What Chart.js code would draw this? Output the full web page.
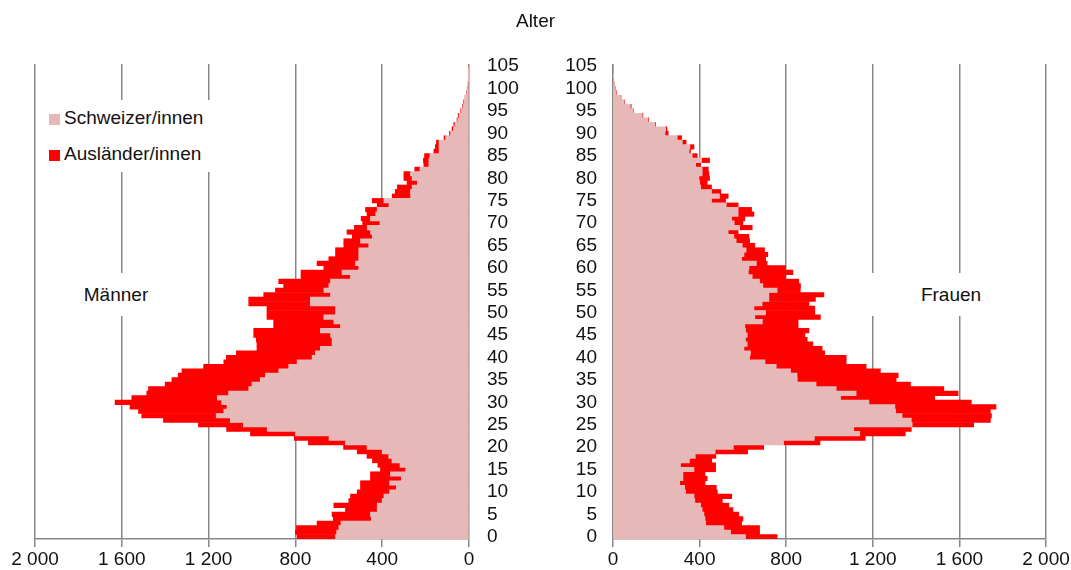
<!DOCTYPE html>
<html>
<head>
<meta charset="utf-8">
<script src="https://cdn.jsdelivr.net/npm/chart.js@4.4.1/dist/chart.umd.min.js"></script>
<style>
  body { margin: 0; background: #fff; font-family: "Liberation Sans", Arial, sans-serif; color: #111; }
  #wrap { position: relative; width: 1071px; height: 570px; overflow: hidden; }
  .pane { position: absolute; top: 0; height: 570px; }
  #title { position: absolute; left: 0; width: 1071px; top: 10px; text-align: center; font-size: 19px; }
  #legend { position: absolute; left: 40px; top: 100px; width: 178px; height: 72px; background: #fff; font-size: 19px; }
  #legend .item { position: absolute; left: 9px; height: 22px; line-height: 22px; white-space: nowrap; }
  #legend .sw { display: inline-block; width: 11px; height: 11px; margin-right: 4px; vertical-align: -1px; }
  .side { position: absolute; top: 273px; height: 43px; line-height: 43px; background: #fff; font-size: 19px; text-align: center; }
</style>
</head>
<body>
<div id="wrap">
  <div class="pane" style="left:0;width:535px"><canvas id="men" width="535" height="570"></canvas></div>
  <div class="pane" style="left:535px;width:536px"><canvas id="women" width="536" height="570"></canvas></div>
  <div id="title">Alter</div>
  <div id="legend">
    <div class="item" style="top:7px"><span class="sw" style="background:#E6B8B7"></span>Schweizer/innen</div>
    <div class="item" style="top:43px"><span class="sw" style="background:#FF0000"></span>Ausländer/innen</div>
  </div>
  <div class="side" style="left:76px;width:80px">Männer</div>
  <div class="side" style="left:866px;width:170px">Frauen</div>
</div>
<script>
// Alter 0..105
const ages = Array.from({ length: 106 }, (_, i) => i);

const menSwiss = [
  615, 610, 600, 590, 450, 454, 423, 423, 400, 392,
  366, 335, 366, 312, 362, 292, 318, 355, 370, 400,
  470, 570, 645, 800, 930, 1040, 1100, 1165, 1130, 1115,
  1140, 1160, 1108, 1015, 1000, 962, 938, 877, 831, 792,
  723, 708, 685, 631, 631, 638, 685, 592, 623, 669,
  615, 615, 731, 731, 638, 669, 646, 638, 546, 585,
  508, 523, 508, 508, 508, 462, 500, 446, 454, 469,
  410, 454, 430, 423, 369, 392, 269, 270, 262, 238,
  262, 270, 226, 185, 185, 180, 138, 138, 138, 108,
  85, 72, 65, 52, 46, 35, 28, 23, 17, 11,
  7, 4, 2, 1, 1, 0
];
const menForeign = [
  177, 190, 195, 110, 175, 177, 146, 200, 154, 154,
  149, 165, 134, 142, 92, 116, 102, 90, 100, 115,
  108, 170, 160, 207, 187, 207, 308, 343, 393, 447,
  491, 394, 377, 462, 400, 407, 402, 446, 392, 338,
  395, 364, 292, 346, 349, 354, 307, 308, 277, 262,
  316, 316, 284, 284, 308, 223, 208, 239, 228, 189,
  161, 177, 138, 107, 107, 115, 77, 92, 108, 59,
  80, 43, 40, 54, 54, 54, 85, 70, 68, 47,
  38, 30, 24, 23, 25, 25, 24, 17, 12, 7,
  5, 6, 5, 3, 4, 3, 2, 2, 1, 1,
  1, 0, 0, 0, 0, 0
];
const womenSwiss = [
  612, 543, 512, 428, 425, 420, 412, 405, 378, 374,
  335, 331, 308, 323, 323, 374, 312, 353, 380, 472,
  556, 788, 930, 1140, 1112, 1382, 1378, 1335, 1305, 1302,
  1182, 1051, 1123, 1031, 938, 851, 850, 820, 754, 702,
  631, 635, 605, 620, 612, 620, 612, 609, 690, 655,
  705, 651, 689, 720, 720, 758, 692, 677, 643, 625,
  628, 662, 594, 605, 615, 597, 569, 558, 532, 585,
  560, 548, 578, 578, 523, 455, 492, 455, 405, 400,
  397, 412, 412, 382, 409, 366, 351, 355, 320, 297,
  240, 243, 194, 162, 135, 92, 80, 51, 35, 15,
  9, 5, 3, 1, 0, 0
];
const womenForeign = [
  146, 134, 165, 166, 175, 161, 142, 130, 127, 174,
  147, 146, 117, 112, 102, 100, 162, 103, 95, 150,
  140, 168, 235, 210, 266, 284, 365, 413, 438, 467,
  473, 435, 471, 497, 436, 457, 467, 415, 415, 375,
  446, 343, 361, 303, 285, 266, 293, 246, 165, 303,
  227, 281, 216, 215, 254, 107, 174, 181, 154, 206,
  169, 50, 111, 110, 85, 58, 62, 70, 46, 58,
  40, 61, 73, 62, 55, 65, 40, 43, 50, 35,
  49, 31, 28, 23, 37, 23, 7, 19, 18, 20,
  15, 6, 3, 3, 3, 2, 4, 2, 2, 2,
  1, 0, 0, 0, 0, 0
];

const xTicks = [0, 400, 800, 1200, 1600, 2000];

const FONT = { family: '"Liberation Sans", Arial, sans-serif', size: 19 };
const GRID = '#878787';

function fmt(v) {
  return String(v).replace(/\B(?=(\d{3})+(?!\d))/g, ' ');
}

function makePyramid(id, swiss, foreign, isMen) {
  const ctx = document.getElementById(id).getContext('2d');
  return new Chart(ctx, {
    type: 'bar',
    data: {
      labels: ages,
      datasets: [
        { label: 'Schweizer/innen', data: swiss, backgroundColor: '#E6B8B7' },
        { label: 'Ausländer/innen', data: foreign, backgroundColor: '#FF0000' }
      ]
    },
    options: {
      indexAxis: 'y',
      responsive: false,
      animation: false,
      barPercentage: 1,
      categoryPercentage: 1,
      borderWidth: 0,
      layout: {
        padding: isMen ? { left: 35, top: 64, right: 0, bottom: 0 } : { left: 0, top: 64, right: 25, bottom: 0 }
      },
      plugins: { legend: { display: false }, tooltip: { enabled: false } },
      scales: {
        x: {
          stacked: true,
          reverse: isMen,
          min: xTicks[0],
          max: xTicks[xTicks.length - 1],
          afterBuildTicks: s => { s.ticks = xTicks.map(v => ({ value: v })); },
          afterFit: s => { s.height = 31; },
          ticks: { callback: v => fmt(v), color: '#111', font: FONT, padding: 1, maxRotation: 0 },
          grid: { color: GRID, lineWidth: 1.5, tickLength: 8 },
          border: { color: GRID, width: 1.5 }
        },
        y: {
          stacked: true,
          reverse: true,
          position: isMen ? 'right' : 'left',
          afterFit: s => { s.width = isMen ? 66 : 78; },
          grid: { display: false, drawTicks: false },
          border: { display: false },
          ticks: {
            autoSkip: false,
            color: '#111',
            font: FONT,
            padding: isMen ? 18 : 16,
            callback: (v, i) => (ages[i] % 5 === 0 ? String(ages[i]) : '')
          }
        }
      }
    }
  });
}

makePyramid('men', menSwiss, menForeign, true);
makePyramid('women', womenSwiss, womenForeign, false);
</script>
</body>
</html>
